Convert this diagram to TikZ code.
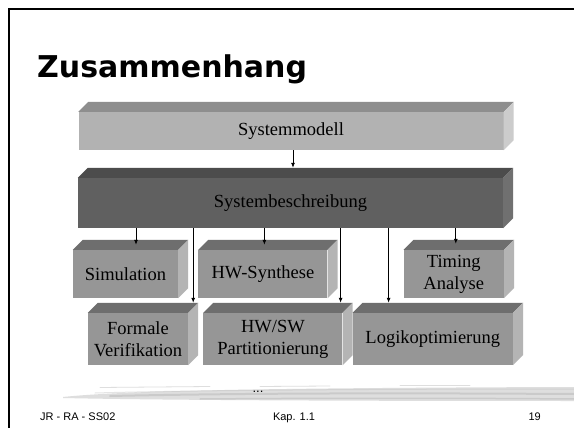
\documentclass[tikz,border=0pt]{standalone}
\usepackage{fontspec}
\setmainfont{Liberation Serif}
\setsansfont{Liberation Sans}
\newfontfamily\titlefont{DejaVu Sans}
\usetikzlibrary{arrows.meta, positioning}

\definecolor{modelfront}{RGB}{178,178,178}
\definecolor{modeltop}{RGB}{142,142,142}
\definecolor{modelside}{RGB}{204,204,204}
\definecolor{descfront}{RGB}{96,96,96}
\definecolor{desctop}{RGB}{76,76,76}
\definecolor{descside}{RGB}{112,112,112}
\definecolor{blockfront}{RGB}{150,150,150}
\definecolor{blocktop}{RGB}{110,110,110}
\definecolor{blockside}{RGB}{180,180,180}
\definecolor{brushgray}{RGB}{222,222,222}
\definecolor{streakgray}{RGB}{190,190,190}

\begin{document}
\begin{tikzpicture}[
    x=1pt, y=-1pt,
    every node/.style={font=\fontsize{18.5}{22}\selectfont},
    front/.style={inner sep=0pt,align=center},
    model/.style={front,fill=modelfront,minimum width=425pt,minimum height=38pt},
    desc/.style={front,fill=descfront,minimum width=425pt,minimum height=50pt},
    low/.style={front,fill=blockfront,minimum height=48pt},
    high/.style={front,fill=blockfront,minimum height=52pt},
    foot/.style={inner sep=0pt,font=\sffamily\fontsize{11}{11}\selectfont},
    streak/.style={streakgray,line cap=round,opacity=0.6},
    arr/.style={-{Latex[length=5pt,width=4pt]},line width=0.8pt}
]
\path[use as bounding box,fill=white] (0,0) rectangle (574,428);
\draw[line width=2.5pt] (9,428) -- (9,9) -- (574,9);

\node[anchor=base west,inner sep=0pt,font=\titlefont\bfseries\fontsize{30}{30}\selectfont]
  (title) at (37,78) {Zusammenhang};

\node[model] (model) at (291,131) {Systemmodell};
\node[desc]  (desc)  at (290.5,203) {Systembeschreibung};

\node[low,minimum width=105pt] (sim) at (125.5,274) {Simulation};
\node[low,minimum width=129pt,right=20pt of sim] (hws)    {HW-Synthese};
\node[low,minimum width=100pt,right=76pt of hws] (timing) {Timing\\Analyse};

\node[high,minimum width=100pt] (fv) at (138,339) {Formale\\Verifikation};
\node[high,minimum width=139pt,right=15pt of fv]   (part)  {HW/SW\\Partitionierung};
\node[high,minimum width=160pt,right=10pt of part] (logik) {Logikoptimierung};

\foreach \n/\t/\s in {model/modeltop/modelside, desc/desctop/descside,
                      sim/blocktop/blockside, hws/blocktop/blockside,
                      timing/blocktop/blockside, fv/blocktop/blockside,
                      part/blocktop/blockside, logik/blocktop/blockside}{
  \fill[\t] (\n.north west) -- ++(10,-10) -- ([shift={(10,-10)}]\n.north east)
            -- (\n.north east) -- cycle;
  \fill[\s] (\n.north east) -- ++(10,-10) -- ([shift={(10,-10)}]\n.south east)
            -- (\n.south east) -- cycle;
}

\draw[arr] ([xshift=2pt]model.south) -- ([xshift=2.5pt,yshift=10pt]desc.north);
\draw[arr] ([xshift=10.5pt]sim.north |- desc.south) -- ([xshift=10.5pt,yshift=5pt]sim.north);
\draw[arr] ([xshift=1.5pt]hws.north |- desc.south) -- ([xshift=1.5pt,yshift=5pt]hws.north);
\draw[arr] ([xshift=2pt]timing.north |- desc.south) -- ([xshift=2pt,yshift=6pt]timing.north);
\draw[arr] ([xshift=5pt]fv.north east |- desc.south) -- ([xshift=5pt,yshift=10pt]fv.north east);
\draw[arr] ([xshift=-2pt]part.north east |- desc.south) -- ([xshift=-2pt,yshift=10pt]part.north east);
\draw[arr] ([xshift=36pt]logik.north west |- desc.south) -- ([xshift=36pt,yshift=10pt]logik.north west);

\fill[brushgray] (63,397) .. controls (120,391) and (250,388) .. (574,387)
  -- (574,401) .. controls (330,401) and (150,400) .. (63,398) -- cycle;
\draw[streak,line width=2pt] (110,396) .. controls (250,393) and (400,393) .. (574,394);
\draw[streak,line width=1.5pt] (200,399) .. controls (330,398) and (450,398) .. (574,399);
\draw[streak,line width=1pt,opacity=0.4] (95,393) .. controls (200,390) and (400,389) .. (574,389);
\draw[streak,line width=0.8pt,opacity=0.5] (100,387.5) -- (210,386.5);
\draw[streak,line width=0.8pt,opacity=0.5] (260,386.5) -- (330,386);
\draw[streak,line width=0.8pt,opacity=0.5] (400,385.5) -- (470,385.5);
\node[inner sep=0pt,font=\sffamily\fontsize{13}{13}\selectfont] (dots) at (258,392) {...};

\node[foot,anchor=base west] (author) at (40,420) {JR - RA - SS02};
\node[foot,anchor=base]      (kap)    at (294,420) {Kap. 1.1};
\node[foot,anchor=base east] (page)   at (541,420) {19};
\end{tikzpicture}
\end{document}
